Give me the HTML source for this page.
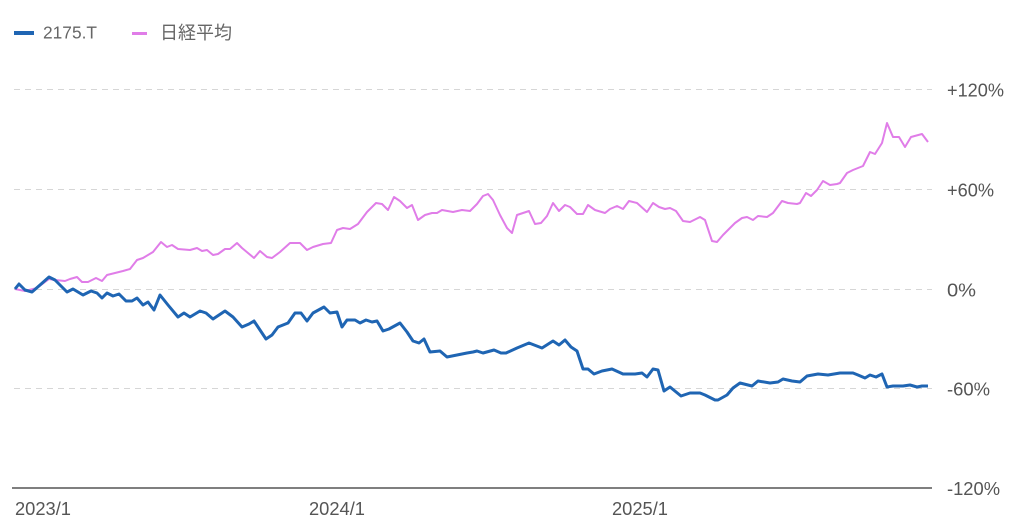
<!DOCTYPE html>
<html><head><meta charset="utf-8">
<style>
html,body{margin:0;padding:0;background:#fff;}
body{width:1024px;height:524px;overflow:hidden;position:relative;font-family:"Liberation Sans","Noto Sans CJK JP",sans-serif;}
svg{position:absolute;left:0;top:0;}
</style></head>
<body>
<svg width="1024" height="524" viewBox="0 0 1024 524" xmlns="http://www.w3.org/2000/svg">
<!-- legend -->
<line x1="14" y1="33" x2="34" y2="33" stroke="#1f65b3" stroke-width="4"/>
<text x="43" y="38.5" font-size="17.5" fill="#666" font-family="Liberation Sans, sans-serif" textLength="54" lengthAdjust="spacingAndGlyphs">2175.T</text>
<line x1="132" y1="33.5" x2="147" y2="33.5" stroke="#e07de8" stroke-width="3"/>
<text x="160" y="39" font-size="18" fill="#666" font-family="Liberation Sans, Noto Sans CJK JP, sans-serif" textLength="72" lengthAdjust="spacingAndGlyphs">日経平均</text>
<!-- grid -->
<g stroke="#d6d6d6" stroke-width="1" stroke-dasharray="6,5">
<line x1="14" y1="89.5" x2="932" y2="89.5"/>
<line x1="14" y1="189.5" x2="932" y2="189.5"/>
<line x1="14" y1="289.5" x2="932" y2="289.5"/>
<line x1="14" y1="388.5" x2="932" y2="388.5"/>
</g>
<line x1="12" y1="488" x2="932" y2="488" stroke="#555" stroke-width="1.5"/>
<!-- y labels -->
<g font-size="18" fill="#555" font-family="Liberation Sans, sans-serif">
<text x="947" y="96.5" textLength="57" lengthAdjust="spacingAndGlyphs">+120%</text>
<text x="947" y="196.5" textLength="47" lengthAdjust="spacingAndGlyphs">+60%</text>
<text x="947" y="296.5" textLength="29" lengthAdjust="spacingAndGlyphs">0%</text>
<text x="947" y="395.5" textLength="43" lengthAdjust="spacingAndGlyphs">-60%</text>
<text x="947" y="495" textLength="53" lengthAdjust="spacingAndGlyphs">-120%</text>
<text x="15" y="515" textLength="56" lengthAdjust="spacingAndGlyphs">2023/1</text>
<text x="309" y="515" textLength="56" lengthAdjust="spacingAndGlyphs">2024/1</text>
<text x="612" y="515" textLength="56" lengthAdjust="spacingAndGlyphs">2025/1</text>
</g>
<!-- pink -->
<polyline fill="none" stroke="#e07de8" stroke-width="2" stroke-linejoin="round" points="
15,289 25,291 37,288 49,279 55,280 65,281 70,279 77,277 82,282 88,282 96,278 102,281 107,275 115,273 123,271 130,269 137,260 143,258 153,252 161,242 167,247 172,245 178,249 190,250 197,248 202,251 207,250 213,255 218,254 225,249 230,249 237,243 242,248 248,253 254,258 260,251 267,257 272,258 280,252 290,243 300,243 307,250 313,247 323,244 331,243 337,230 343,228 350,229 358,224 367,212 376,203 382,204 388,210 394,197 400,201 407,208 412,205 418,220 425,215 432,213 437,213 442,210 453,212 462,210 470,211 477,204 483,196 488,194 493,200 500,215 507,228 512,233 517,215 523,213 529,211 535,224 541,223 547,216 553,203 559,211 565,205 570,207 577,214 583,214 588,205 595,210 605,213 610,209 617,206 623,209 629,201 637,203 647,212 653,203 659,207 665,209 670,208 676,211 683,221 690,222 700,217 705,220 712,241 717,242 723,235 735,223 742,218 747,217 753,220 758,216 767,217 773,213 782,201 788,203 797,204 800,203 806,193 811,196 817,190 823,181 830,185 837,184 840,183 847,173 853,170 863,166 870,152 875,154 882,143 887,123 893,137 899,137 905,147 911,137 922,134 928,142"/>
<!-- blue -->
<polyline fill="none" stroke="#1f65b3" stroke-width="3" stroke-linejoin="round" points="
15,289 19,284 25,290 32,292 40,285 49,277 55,280 67,292 73,289 83,295 91,291 97,293 102,298 107,293 113,296 119,294 126,301 132,301 137,298 143,305 148,302 154,310 160,295 168,305 178,317 184,313 190,317 200,311 206,313 213,319 225,311 233,317 242,327 249,324 254,321 266,339 272,335 278,327 288,323 295,313 301,313 307,321 313,313 324,307 330,313 337,312 342,327 347,320 355,320 360,323 366,320 372,322 377,321 383,331 389,329 400,323 407,332 413,341 419,343 424,339 430,352 440,351 447,357 457,355 467,353 473,352 477,351 483,353 494,350 501,353 506,353 517,348 529,343 542,348 553,341 559,345 565,340 571,347 577,351 583,369 588,369 594,374 602,371 612,369 623,374 635,374 642,373 647,377 653,369 658,370 664,391 670,387 681,396 690,393 700,393 705,395 715,400 718,400 727,395 733,388 740,383 752,386 758,381 770,383 778,382 783,379 792,381 800,382 807,376 818,374 828,375 840,373 853,373 858,375 865,378 870,375 876,377 882,374 887,387 893,386 903,386 910,385 917,387 922,386 928,386"/>
</svg>
</body></html>
